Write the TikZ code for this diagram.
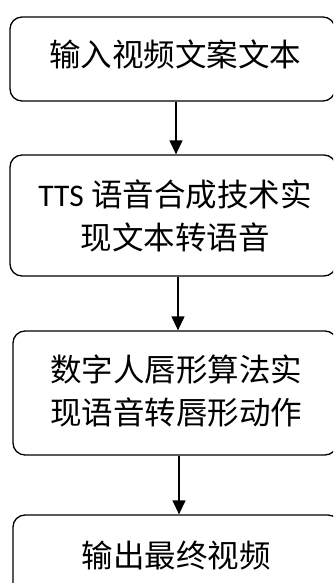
\documentclass[tikz,border=0pt]{standalone}
\usepackage{fontspec}
\newfontfamily\cjk{Noto Sans CJK SC}
\newfontfamily\lat{Carlito}
\usetikzlibrary{arrows.meta}
\begin{document}
\begin{tikzpicture}[x=1pt,y=-1pt,
  box/.style={draw=black, line width=1.3pt, rounded corners=12pt, inner sep=0pt},
  txt/.style={font=\cjk\fontsize{31.5}{43}\selectfont, align=center, inner sep=0pt},
  arr/.style={line width=1.3pt, -{Triangle[length=14pt,width=13pt]}}]
\useasboundingbox (0,0) rectangle (333,583);
\clip (0,0) rectangle (333,583);
\node[box, minimum width=325pt, minimum height=84pt] (b1) at (172.5,59) {};
\node[box, minimum width=326pt, minimum height=121pt] (b2) at (173,215.5) {};
\node[box, minimum width=324pt, minimum height=124pt] (b3) at (175,393) {};
\node[box, minimum width=327pt, minimum height=90pt] (b4) at (176.5,560) {};
\node[txt] (t1) at (175,54) {输入视频文案文本};
\node[txt] (t2) at (175,216) {{\lat TTS} 语音合成技术实\\现文本转语音};
\node[txt] (t3) at (176,391) {数字人唇形算法实\\现语音转唇形动作};
\node[txt] (t4) at (176,556) {输出最终视频};
\draw[arr] (b1.south -| 176,0) -- (b2.north -| 176,0);
\draw[arr] (b2.south -| 178,0) -- (b3.north -| 178,0);
\draw[arr] (b3.south -| 179,0) -- (b4.north -| 179,0);
\end{tikzpicture}
\end{document}
